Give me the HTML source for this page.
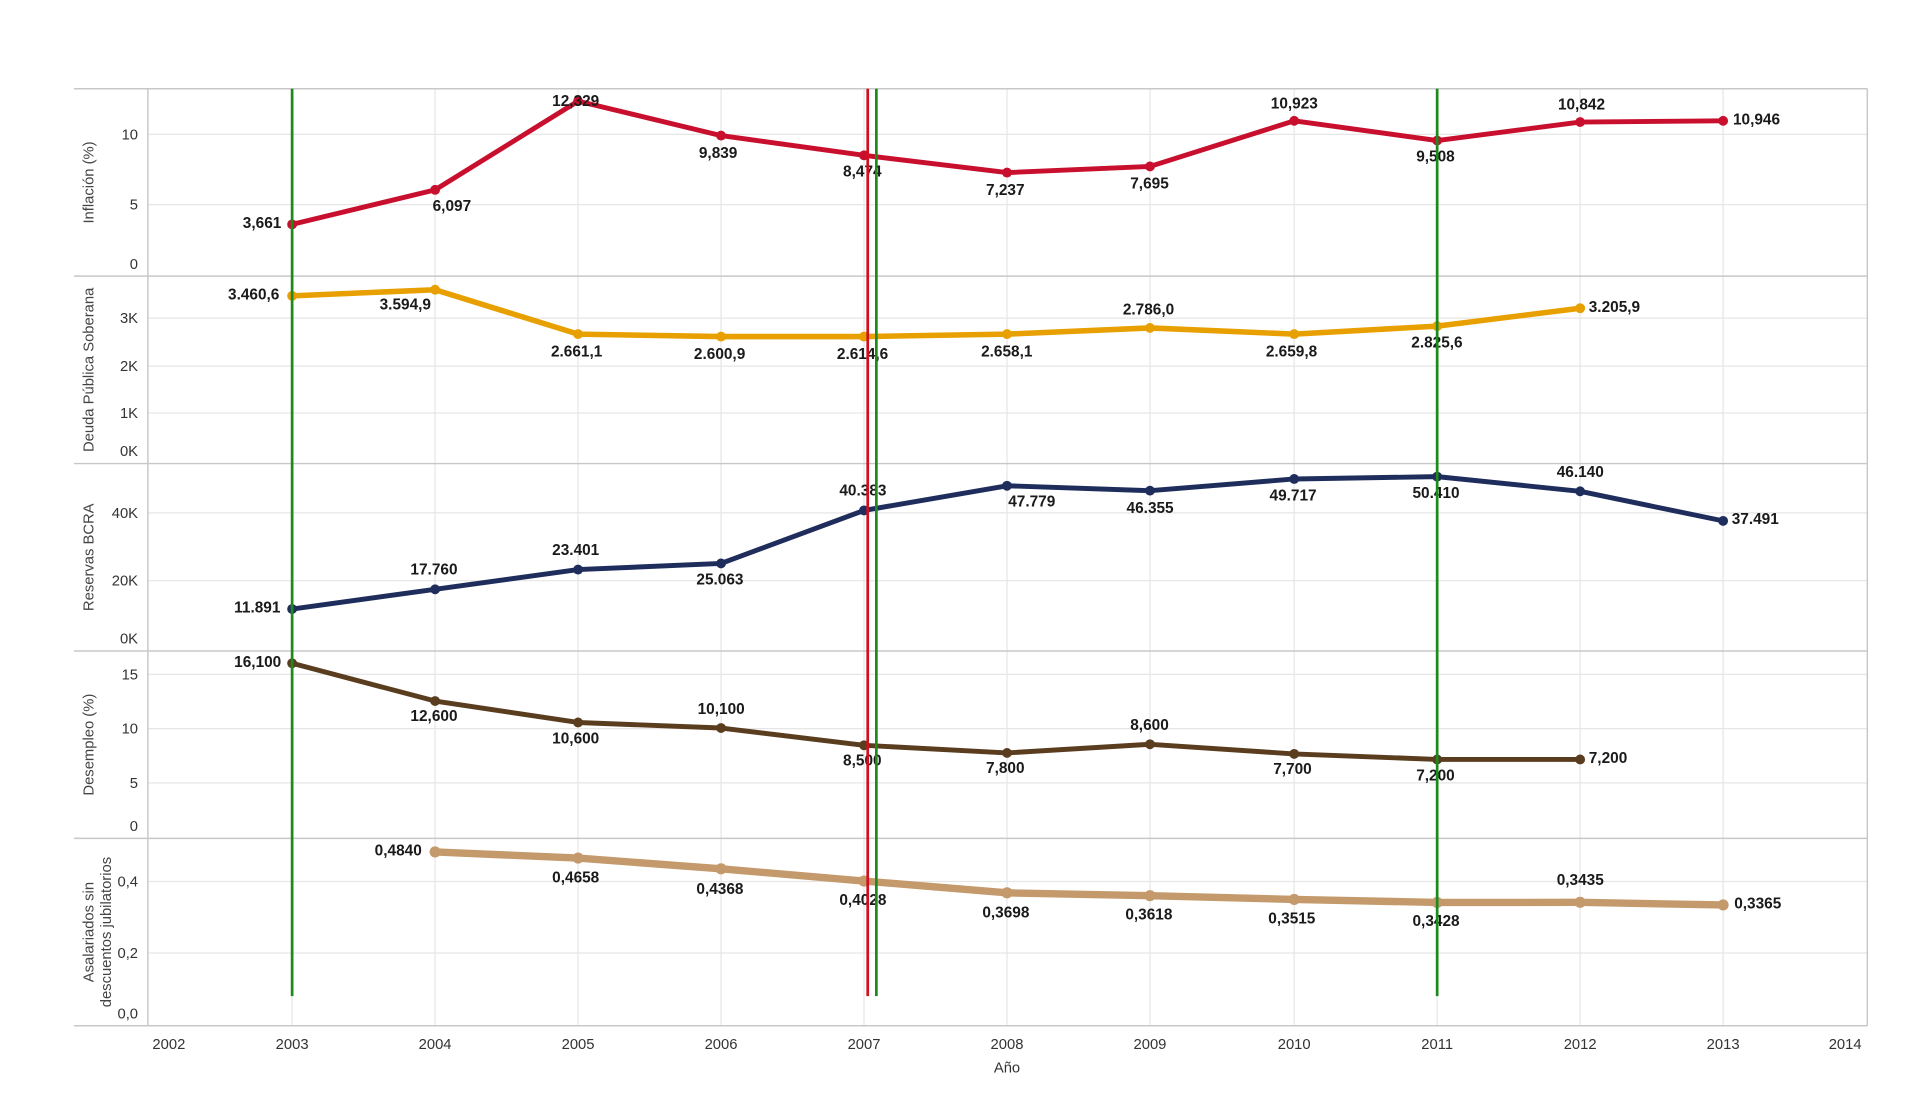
<!DOCTYPE html>
<html><head><meta charset="utf-8"><style>
html,body{margin:0;padding:0;background:#fff;}
svg{display:block}
text{font-family:"Liberation Sans",Arial,sans-serif;}
.v{font-size:12.5px;font-weight:bold;fill:#1a1a1a}
.t{font-size:12px;fill:#444}
.ax{font-size:12px;fill:#333}
.g{stroke:#e6e6e6;stroke-width:1}
</style></head><body>
<svg width="1908" height="1117" viewBox="0 0 1548 906" preserveAspectRatio="none">
<rect width="1548" height="906" fill="#fff"/>
<!-- vertical gridlines -->
<g class="g">
<line x1="237" y1="72" x2="237" y2="832"/><line x1="353" y1="72" x2="353" y2="832"/><line x1="469" y1="72" x2="469" y2="832"/><line x1="585" y1="72" x2="585" y2="832"/><line x1="701" y1="72" x2="701" y2="832"/><line x1="817" y1="72" x2="817" y2="832"/><line x1="933" y1="72" x2="933" y2="832"/><line x1="1050" y1="72" x2="1050" y2="832"/><line x1="1166" y1="72" x2="1166" y2="832"/><line x1="1282" y1="72" x2="1282" y2="832"/><line x1="1398" y1="72" x2="1398" y2="832"/>
<!-- horizontal gridlines -->
<line x1="120" y1="109" x2="1515" y2="109"/><line x1="120" y1="166" x2="1515" y2="166"/>
<line x1="120" y1="258" x2="1515" y2="258"/><line x1="120" y1="297" x2="1515" y2="297"/><line x1="120" y1="335" x2="1515" y2="335"/>
<line x1="120" y1="416" x2="1515" y2="416"/><line x1="120" y1="471" x2="1515" y2="471"/>
<line x1="120" y1="547" x2="1515" y2="547"/><line x1="120" y1="591" x2="1515" y2="591"/><line x1="120" y1="635" x2="1515" y2="635"/>
<line x1="120" y1="715" x2="1515" y2="715"/><line x1="120" y1="773" x2="1515" y2="773"/>
</g>
<g stroke="#c8c8c8" stroke-width="1.2">
<line x1="60" y1="72" x2="1515" y2="72"/>
<line x1="60" y1="224" x2="1515" y2="224"/>
<line x1="60" y1="376" x2="1515" y2="376"/>
<line x1="60" y1="528" x2="1515" y2="528"/>
<line x1="60" y1="680" x2="1515" y2="680"/>
<line x1="60" y1="832" x2="1515" y2="832"/>
<line x1="120" y1="72" x2="120" y2="832"/>
<line x1="1515" y1="72" x2="1515" y2="832"/>
</g>
<!-- y tick labels -->
<g class="ax" text-anchor="end">
<text x="112" y="113">10</text><text x="112" y="170">5</text><text x="112" y="218">0</text>
<text x="112" y="262">3K</text><text x="112" y="301">2K</text><text x="112" y="339">1K</text><text x="112" y="370">0K</text>
<text x="112" y="420">40K</text><text x="112" y="475">20K</text><text x="112" y="522">0K</text>
<text x="112" y="551">15</text><text x="112" y="595">10</text><text x="112" y="639">5</text><text x="112" y="674">0</text>
<text x="112" y="719">0,4</text><text x="112" y="777">0,2</text><text x="112" y="826">0,0</text>
</g>
<!-- panel titles -->
<g class="t" text-anchor="middle">
<text transform="translate(76,148) rotate(-90)">Inflación (%)</text>
<text transform="translate(76,300) rotate(-90)">Deuda Pública Soberana</text>
<text transform="translate(76,452) rotate(-90)">Reservas BCRA</text>
<text transform="translate(76,604) rotate(-90)">Desempleo (%)</text>
<text transform="translate(76,756) rotate(-90)">Asalariados sin</text>
<text transform="translate(90,756) rotate(-90)">descuentos jubilatorios</text>
</g>
<!-- x labels -->
<g class="ax" text-anchor="middle">
<text x="137" y="851">2002</text><text x="237" y="851">2003</text><text x="353" y="851">2004</text><text x="469" y="851">2005</text><text x="585" y="851">2006</text><text x="701" y="851">2007</text><text x="817" y="851">2008</text><text x="933" y="851">2009</text><text x="1050" y="851">2010</text><text x="1166" y="851">2011</text><text x="1282" y="851">2012</text><text x="1398" y="851">2013</text><text x="1497" y="851">2014</text>
<text x="817" y="870">Año</text>
</g>
<!-- series -->
<g fill="none" stroke-linejoin="round" stroke-linecap="round">
<polyline stroke="#c8102e" stroke-width="4" points="237,182 353,154 469,82 585,110 701,126 817,140 933,135 1050,98 1166,114 1282,99 1398,98"/>
<polyline stroke="#e8a000" stroke-width="4.5" points="237,240 353,235 469,271 585,273 701,273 817,271 933,266 1050,271 1166,264.5 1282,250"/>
<polyline stroke="#1f2d5c" stroke-width="4" points="237,494 353,478 469,462 585,457 701,414 817,394 933,398 1050,388.5 1166,386.6 1282,398.5 1398,422.5"/>
<polyline stroke="#5a3d1e" stroke-width="4" points="237,538 353,568.6 469,586 585,590.5 701,604.5 817,610.7 933,603.7 1050,611.5 1166,616 1282,616"/>
<polyline stroke="#c49a6c" stroke-width="6" points="353,691 469,696 585,704.7 701,714.6 817,724.2 933,726.5 1050,729.5 1166,732 1282,731.9 1398,734"/>
</g>
<g fill="#c8102e"><circle cx="237" cy="182" r="4"/><circle cx="353" cy="154" r="4"/><circle cx="469" cy="82" r="4"/><circle cx="585" cy="110" r="4"/><circle cx="701" cy="126" r="4"/><circle cx="817" cy="140" r="4"/><circle cx="933" cy="135" r="4"/><circle cx="1050" cy="98" r="4"/><circle cx="1166" cy="114" r="4"/><circle cx="1282" cy="99" r="4"/><circle cx="1398" cy="98" r="4"/></g>
<g fill="#e8a000"><circle cx="237" cy="240" r="4"/><circle cx="353" cy="235" r="4"/><circle cx="469" cy="271" r="4"/><circle cx="585" cy="273" r="4"/><circle cx="701" cy="273" r="4"/><circle cx="817" cy="271" r="4"/><circle cx="933" cy="266" r="4"/><circle cx="1050" cy="271" r="4"/><circle cx="1166" cy="264.5" r="4"/><circle cx="1282" cy="250" r="4"/></g>
<g fill="#1f2d5c"><circle cx="237" cy="494" r="4"/><circle cx="353" cy="478" r="4"/><circle cx="469" cy="462" r="4"/><circle cx="585" cy="457" r="4"/><circle cx="701" cy="414" r="4"/><circle cx="817" cy="394" r="4"/><circle cx="933" cy="398" r="4"/><circle cx="1050" cy="388.5" r="4"/><circle cx="1166" cy="386.6" r="4"/><circle cx="1282" cy="398.5" r="4"/><circle cx="1398" cy="422.5" r="4"/></g>
<g fill="#5a3d1e"><circle cx="237" cy="538" r="4"/><circle cx="353" cy="568.6" r="4"/><circle cx="469" cy="586" r="4"/><circle cx="585" cy="590.5" r="4"/><circle cx="701" cy="604.5" r="4"/><circle cx="817" cy="610.7" r="4"/><circle cx="933" cy="603.7" r="4"/><circle cx="1050" cy="611.5" r="4"/><circle cx="1166" cy="616" r="4"/><circle cx="1282" cy="616" r="4"/></g>
<g fill="#c49a6c"><circle cx="353" cy="691" r="4.5"/><circle cx="469" cy="696" r="4.5"/><circle cx="585" cy="704.7" r="4.5"/><circle cx="701" cy="714.6" r="4.5"/><circle cx="817" cy="724.2" r="4.5"/><circle cx="933" cy="726.5" r="4.5"/><circle cx="1050" cy="729.5" r="4.5"/><circle cx="1166" cy="732" r="4.5"/><circle cx="1282" cy="731.9" r="4.5"/><circle cx="1398" cy="734" r="4.5"/></g>
<!-- value labels -->
<g class="v">
<text x="197" y="185">3,661</text><text x="351" y="171">6,097</text><text x="448" y="86">12,329</text><text x="567" y="128">9,839</text><text x="684" y="143">8,474</text><text x="800" y="158">7,237</text><text x="917" y="153">7,695</text><text x="1031" y="88">10,923</text><text x="1149" y="131">9,508</text><text x="1264" y="89">10,842</text><text x="1406" y="101">10,946</text>
<text x="185" y="243">3.460,6</text><text x="308" y="251">3.594,9</text><text x="447" y="289">2.661,1</text><text x="563" y="291">2.600,9</text><text x="679" y="291">2.614,6</text><text x="796" y="289">2.658,1</text><text x="911" y="255">2.786,0</text><text x="1027" y="289">2.659,8</text><text x="1145" y="282">2.825,6</text><text x="1289" y="253">3.205,9</text>
<text x="190" y="497">11.891</text><text x="333" y="466">17.760</text><text x="448" y="450">23.401</text><text x="565" y="474">25.063</text><text x="681" y="402">40.383</text><text x="818" y="411">47.779</text><text x="914" y="416">46.355</text><text x="1030" y="406">49.717</text><text x="1146" y="404">50.410</text><text x="1263" y="387">46.140</text><text x="1405" y="425">37.491</text>
<text x="190" y="541">16,100</text><text x="333" y="585">12,600</text><text x="448" y="603">10,600</text><text x="566" y="579">10,100</text><text x="684" y="621">8,500</text><text x="800" y="627">7,800</text><text x="917" y="592">8,600</text><text x="1033" y="628">7,700</text><text x="1149" y="633">7,200</text><text x="1289" y="619">7,200</text>
<text x="304" y="694">0,4840</text><text x="448" y="716">0,4658</text><text x="565" y="725">0,4368</text><text x="681" y="734">0,4028</text><text x="797" y="744">0,3698</text><text x="913" y="746">0,3618</text><text x="1029" y="749">0,3515</text><text x="1146" y="751">0,3428</text><text x="1263" y="718">0,3435</text><text x="1407" y="737">0,3365</text>
</g>
<!-- reference lines -->
<g stroke-width="2.2">
<line x1="237" y1="72" x2="237" y2="808" stroke="#1e8a1e"/>
<line x1="704" y1="72" x2="704" y2="808" stroke="#d01020"/>
<line x1="711" y1="72" x2="711" y2="808" stroke="#1e8a1e"/>
<line x1="1166" y1="72" x2="1166" y2="808" stroke="#1e8a1e"/>
</g>
</svg>
</body></html>
